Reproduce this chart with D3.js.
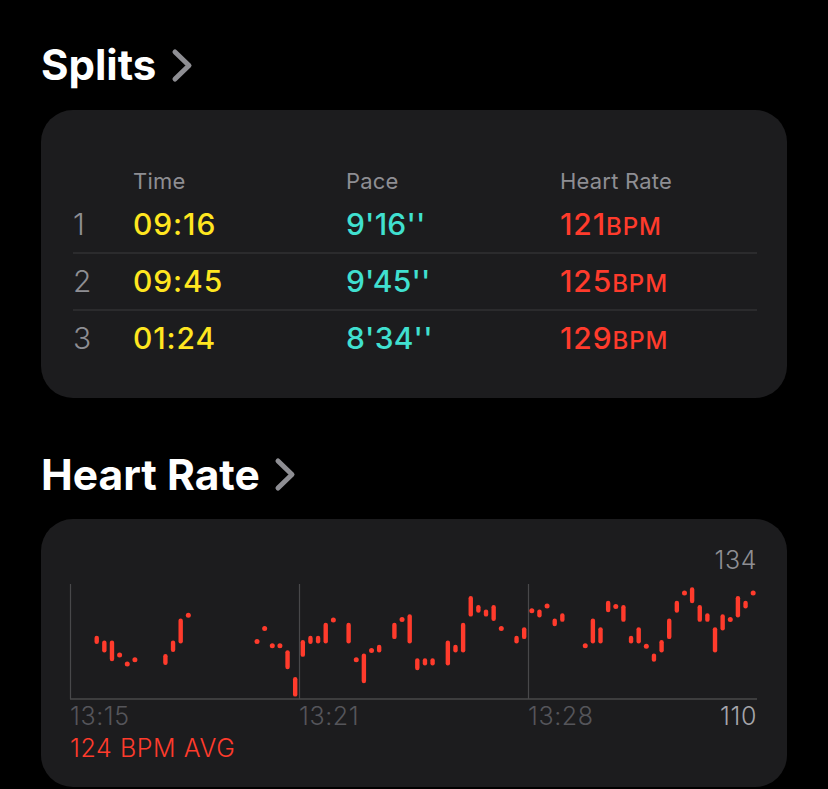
<!DOCTYPE html>
<html>
<head>
<meta charset="utf-8">
<script src="https://cdn.jsdelivr.net/npm/d3@7"></script>
<style>
  html, body { margin: 0; padding: 0; background: #000; }
  svg { display: block; }
  text { font-family: Inter, "Noto Sans", sans-serif; }
</style>
</head>
<body>
<svg id="chart" width="828" height="789"></svg>
<script>
// ---- Splits table data ----
const splitNumbers = ["1", "2", "3"];
const splitTimes = ["09:16", "09:45", "01:24"];
const splitPaces = ["9'16''", "9'45''", "8'34''"];
const splitHeartRates = [121, 125, 129];
const splitColumns = ["Time", "Pace", "Heart Rate"];

// ---- Heart rate chart data (sample slot index, min bpm, max bpm) ----
const hrSlots = [3,4,5,6,7,8,12,13,14,15,24,25,26,27,28,29,30,31,32,33,34,36,37,38,39,40,42,43,44,45,46,47,49,50,51,52,53,54,55,56,58,59,60,61,62,63,64,67,68,69,70,71,72,73,74,75,76,77,78,79,80,81,82,83,84,85,86,87,88,89];
const hrLow  = [121.5,119.7,117.9,119.2,117.3,118.2,117.1,119.8,121.6,127.5,122.0,124.7,121.1,121.1,116.2,110.5,118.8,121.5,121.6,121.6,126.5,121.6,118.2,113.3,120.1,119.7,122.5,126.6,121.6,116.0,117.0,117.0,117.0,119.7,119.7,127.2,128.0,127.2,126.3,124.7,121.6,122.5,128.4,127.0,129.4,125.2,126.1,121.1,121.6,121.6,128.1,129.3,126.1,121.6,121.6,121.0,117.8,119.7,122.5,128.0,132.1,130.0,126.1,126.1,119.7,124.3,126.6,127.0,128.9,132.1];
const hrHigh = [123.2,122.2,122.2,119.2,117.3,118.2,119.4,122.2,126.8,127.5,122.0,124.7,121.1,121.1,120.2,114.6,122.3,123.2,123.2,125.9,126.5,125.9,118.2,119.5,120.1,121.3,125.9,126.6,127.7,118.5,118.5,118.5,122.2,121.3,125.9,131.5,129.6,128.7,129.6,124.7,123.2,125.0,128.4,128.7,129.4,126.8,127.9,121.1,126.8,125.0,130.5,129.3,129.6,123.2,125.0,121.0,119.5,122.3,126.8,130.5,132.1,133.3,129.6,127.9,125.0,127.7,126.6,131.5,130.5,132.1];
const totalSlots = 90;
const yMin = 110, yMax = 134;
const timeTickSlots = [0, 30, 60];
const timeTickLabels = ["13:15", "13:21", "13:28"];
const avgLabel = "124 BPM AVG";

const svg = d3.select("#chart");

// colours
const C = {
  card: "#1c1c1e", grey: "#8e8e93", sep: "#3a3a3c", yellow: "#ffe620",
  cyan: "#40e0d0", red: "#ff3b2c", grid: "#48484a", dimText: "#55555a"
};

function chevron(x, y) {
  svg.append("path")
    .attr("d", `M${x},${y} L${x + 14},${y + 13.5} L${x},${y + 27}`)
    .attr("fill", "none").attr("stroke", C.grey)
    .attr("stroke-width", 5).attr("stroke-linecap", "round").attr("stroke-linejoin", "round");
}

// ---- Splits section ----
svg.append("text").attr("x", 41).attr("y", 80).text("Splits")
  .attr("fill", "#fff").attr("font-size", 42).attr("font-weight", 700);
chevron(175, 52);

svg.append("rect").attr("x", 41).attr("y", 110).attr("width", 746).attr("height", 288)
  .attr("rx", 32).attr("fill", C.card);

const colX = d3.scaleOrdinal().domain(splitColumns).range([133, 346, 560]);
svg.selectAll("text.colhead").data(splitColumns).join("text")
  .attr("class", "colhead")
  .attr("x", d => colX(d)).attr("y", 189)
  .attr("fill", C.grey).attr("font-size", 22).attr("letter-spacing", 0.2).text(d => d);

const rowY = d3.scalePoint().domain(splitNumbers).range([235, 349]);
const rows = svg.selectAll("g.row").data(splitNumbers).join("g").attr("class", "row");
const valStyle = sel => sel.attr("font-size", 30).attr("font-weight", 500).attr("letter-spacing", 0.9);
rows.append("text").attr("x", 73).attr("y", d => rowY(d))
  .attr("fill", C.grey).attr("font-size", 30).attr("font-weight", 300).text(d => d);
rows.append("text").attr("x", colX("Time")).attr("y", d => rowY(d))
  .attr("fill", C.yellow).call(valStyle)
  .text((d, i) => splitTimes[i]);
rows.append("text").attr("x", colX("Pace")).attr("y", d => rowY(d))
  .attr("fill", C.cyan).call(valStyle).attr("letter-spacing", 0.2)
  .text((d, i) => splitPaces[i]);
const hrT = rows.append("text").attr("x", colX("Heart Rate")).attr("y", d => rowY(d))
  .attr("fill", C.red);
hrT.append("tspan").call(valStyle).text((d, i) => splitHeartRates[i]);
hrT.append("tspan").attr("font-size", 24).attr("font-weight", 500).attr("letter-spacing", 0.9).text("BPM");

svg.selectAll("line.sep").data(splitNumbers.slice(1)).join("line")
  .attr("class", "sep")
  .attr("x1", 73).attr("x2", 757)
  .attr("y1", d => rowY(d) - 39).attr("y2", d => rowY(d) - 39)
  .attr("stroke", C.sep).attr("stroke-width", 1);

// ---- Heart rate section ----
svg.append("text").attr("x", 41).attr("y", 490).text("Heart Rate")
  .attr("fill", "#fff").attr("font-size", 42.5).attr("font-weight", 700);
chevron(278, 461);

svg.append("rect").attr("x", 41).attr("y", 519).attr("width", 746).attr("height", 268)
  .attr("rx", 32).attr("fill", C.card);

const x = d3.scaleLinear().domain([0, totalSlots]).range([70, 757]);
const y = d3.scaleLinear().domain([yMin, yMax]).range([699, 584]);

// frame + gridlines
const g = svg.append("g");
g.selectAll("line.vgrid").data(timeTickSlots).join("line")
  .attr("class", "vgrid")
  .attr("x1", d => x(d) + 0.5).attr("x2", d => x(d) + 0.5)
  .attr("y1", y(yMax)).attr("y2", y(yMin))
  .attr("stroke", C.grid).attr("stroke-width", 1.2);
g.append("line").attr("x1", x(0)).attr("x2", x(totalSlots))
  .attr("y1", y(yMin)).attr("y2", y(yMin))
  .attr("stroke", C.grid).attr("stroke-width", 1.5);

// bars and dots
const data = hrSlots.map((s, i) => ({ s, lo: hrLow[i], hi: hrHigh[i] }));
const bw = 4.4;
g.selectAll("rect.bar").data(data.filter(d => d.hi > d.lo)).join("rect")
  .attr("class", "bar")
  .attr("x", d => x(d.s + 0.5) - bw / 2).attr("width", bw)
  .attr("y", d => y(d.hi)).attr("height", d => y(d.lo) - y(d.hi))
  .attr("rx", bw / 2).attr("fill", C.red);
g.selectAll("circle.dot").data(data.filter(d => d.hi <= d.lo)).join("circle")
  .attr("class", "dot")
  .attr("cx", d => x(d.s + 0.5)).attr("cy", d => y(d.lo))
  .attr("r", 2.5).attr("fill", C.red);

// axis labels
const axStyle = sel => sel.attr("font-size", 25).attr("font-weight", 300).attr("letter-spacing", 0.6);
g.selectAll("text.tick").data(timeTickSlots).join("text")
  .attr("class", "tick")
  .attr("x", d => x(d)).attr("y", 725)
  .attr("fill", C.dimText).call(axStyle)
  .text((d, i) => timeTickLabels[i]);
g.append("text").attr("x", 757).attr("y", 569).attr("text-anchor", "end")
  .attr("fill", C.grey).call(axStyle).text(yMax);
g.append("text").attr("x", 757).attr("y", 725).attr("text-anchor", "end")
  .attr("fill", "#a5a5aa").call(axStyle).text(yMin);
g.append("text").attr("x", 70).attr("y", 757)
  .attr("fill", C.red).call(axStyle).text(avgLabel);
</script>
</body>
</html>
